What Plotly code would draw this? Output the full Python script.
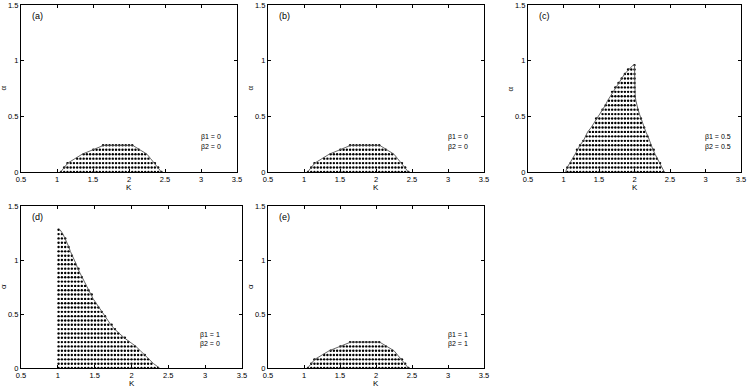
import numpy as np
import plotly.graph_objects as go

# ---------------- data ----------------
# rows of the stable region: alpha value, left K limit, right K limit
alpha_a = [0.00, 0.04, 0.08, 0.12, 0.16, 0.20, 0.24]
kmin_a = [1.05, 1.10, 1.15, 1.25, 1.35, 1.50, 1.65]
kmax_a = [2.45, 2.40, 2.35, 2.30, 2.25, 2.15, 2.05]

alpha_c = [0.00, 0.04, 0.08, 0.12, 0.16, 0.20, 0.24, 0.28, 0.32, 0.36, 0.40, 0.44, 0.48,
           0.52, 0.56, 0.60, 0.64, 0.68, 0.72, 0.76, 0.80, 0.84, 0.88, 0.92, 0.96]
kmin_c = [1.03, 1.05, 1.09, 1.13, 1.16, 1.20, 1.23, 1.28, 1.31, 1.34, 1.39, 1.43, 1.47,
          1.52, 1.56, 1.59, 1.62, 1.66, 1.69, 1.73, 1.77, 1.82, 1.86, 1.92, 1.98]
kmax_c = [2.42, 2.38, 2.35, 2.32, 2.29, 2.26, 2.24, 2.21, 2.19, 2.16, 2.14, 2.11, 2.09,
          2.07, 2.05, 2.03, 2.02, 2.01, 2.01, 2.00, 2.00, 2.00, 2.00, 2.00, 2.00]

alpha_d = [0.00, 0.04, 0.08, 0.12, 0.16, 0.20, 0.24, 0.28, 0.32, 0.36, 0.40, 0.44, 0.48,
           0.52, 0.56, 0.60, 0.64, 0.68, 0.72, 0.76, 0.80, 0.84, 0.88, 0.92, 0.96, 1.00,
           1.04, 1.08, 1.12, 1.16, 1.20, 1.24, 1.28]
kmin_d = [1.02] * len(alpha_d)
kmax_d = [2.38, 2.30, 2.25, 2.18, 2.12, 2.06, 1.98, 1.90, 1.83, 1.77, 1.72, 1.67, 1.63,
          1.59, 1.56, 1.52, 1.48, 1.45, 1.42, 1.39, 1.35, 1.32, 1.30, 1.27, 1.25, 1.22,
          1.20, 1.17, 1.15, 1.13, 1.10, 1.07, 1.03]

panel_labels = ["(a)", "(b)", "(c)", "(d)", "(e)"]
beta1 = ["0", "0", "0.5", "1", "1"]
beta2 = ["0", "0", "0.5", "0", "1"]
x_ticks = [0.5, 1, 1.5, 2, 2.5, 3, 3.5]
x_tick_text = ["0.5", "1", "1.5", "2", "2.5", "3", "3.5"]
y_ticks = [0, 0.5, 1, 1.5]
y_tick_text = ["0", "0.5", "1", "1.5"]

panels = [
    (alpha_a, kmin_a, kmax_a, True),
    (alpha_a, kmin_a, kmax_a, True),
    (alpha_c, kmin_c, kmax_c, True),
    (alpha_d, kmin_d, kmax_d, False),
    (alpha_a, kmin_a, kmax_a, True),
]

# ---------------- layout geometry (pixels) ----------------
W, H = 748, 389
boxes = [  # x0, x1, ytop, ybottom
    (21, 237, 5, 172),
    (268, 484, 5, 172),
    (528, 741, 5, 172),
    (21, 242, 206, 368),
    (268, 484, 206, 368),
]

K_STEP = 0.045
K_GRID = 1.01 + K_STEP * np.arange(40)

FONT = "Liberation Sans, Arial, sans-serif"
fig = go.Figure()
layout = dict(
    width=W, height=H, margin=dict(l=0, r=0, t=0, b=0, autoexpand=False),
    paper_bgcolor="white", plot_bgcolor="white", showlegend=False,
    font=dict(family=FONT, color="black", size=8),
)
annotations = []

for i, ((al, kmn, kmx, left_line), (x0, x1, yt, yb)) in enumerate(zip(panels, boxes)):
    n = i + 1
    xa = "x" if n == 1 else f"x{n}"
    ya = "y" if n == 1 else f"y{n}"
    # grid dots inside the region
    dx, dy = [], []
    for a, lo, hi in zip(al, kmn, kmx):
        ks = K_GRID[(K_GRID >= lo - 0.012) & (K_GRID <= hi + 0.012)]
        dx.extend(ks.tolist())
        dy.extend([a] * len(ks))
    fig.add_trace(go.Scatter(x=dx, y=dy, mode="markers", xaxis=xa, yaxis=ya,
                             marker=dict(color="black", size=2.4, line=dict(width=0)),
                             hoverinfo="skip"))
    # boundary line
    if left_line:
        bx = list(kmn) + list(kmx)[::-1]
        by = list(al) + list(al)[::-1]
    else:
        bx = [kmn[-1]] + list(kmx)[::-1]
        by = [al[-1]] + list(al)[::-1]
    fig.add_trace(go.Scatter(x=bx, y=by, mode="lines", xaxis=xa, yaxis=ya,
                             line=dict(color="#555555", width=0.9), hoverinfo="skip"))

    axkey = "xaxis" if n == 1 else f"xaxis{n}"
    aykey = "yaxis" if n == 1 else f"yaxis{n}"
    common = dict(showgrid=False, zeroline=False, showline=True, linecolor="black",
                  linewidth=1.3, mirror="allticks", ticks="inside", ticklen=3,
                  tickwidth=1, tickcolor="black", tickfont=dict(size=7.5, family=FONT),
                  fixedrange=True, automargin=False, ticklabeloverflow="allow")
    layout[axkey] = dict(common, domain=[x0 / W, x1 / W], range=[0.5, 3.5],
                         tickvals=x_ticks, ticktext=x_tick_text, anchor=ya)
    layout[aykey] = dict(common, domain=[1 - yb / H, 1 - yt / H], range=[0, 1.5],
                         tickvals=y_ticks, ticktext=y_tick_text, anchor=xa)

    # axis titles
    annotations.append(dict(x=(x0 + x1) / 2 / W, y=1 - (yb + 15.5) / H, xref="paper",
                            yref="paper", text="K", showarrow=False,
                            font=dict(size=8, family=FONT), xanchor="center",
                            yanchor="middle"))
    annotations.append(dict(x=(x0 - 18) / W, y=1 - (yt + yb) / 2 / H, xref="paper",
                            yref="paper", text="α", showarrow=False, textangle=-90,
                            font=dict(size=8, family=FONT), xanchor="center",
                            yanchor="middle"))
    # panel label
    annotations.append(dict(x=0.62, y=1.40, xref=xa, yref=ya, text=panel_labels[i],
                            showarrow=False, xanchor="left", yanchor="middle",
                            font=dict(size=9, family=FONT)))
    # beta labels
    bxpos = 2.9 if n == 4 else 2.97
    annotations.append(dict(x=bxpos, y=0.31, xref=xa, yref=ya, text=f"β1 = {beta1[i]}",
                            showarrow=False, xanchor="left", yanchor="middle",
                            font=dict(size=7, family=FONT)))
    annotations.append(dict(x=bxpos, y=0.225, xref=xa, yref=ya, text=f"β2 = {beta2[i]}",
                            showarrow=False, xanchor="left", yanchor="middle",
                            font=dict(size=7, family=FONT)))

layout["annotations"] = annotations
fig.update_layout(**layout)
fig.write_html("out.html", config={"displayModeBar": False},
               post_script="document.body.style.margin='0';document.body.style.padding='0';")
